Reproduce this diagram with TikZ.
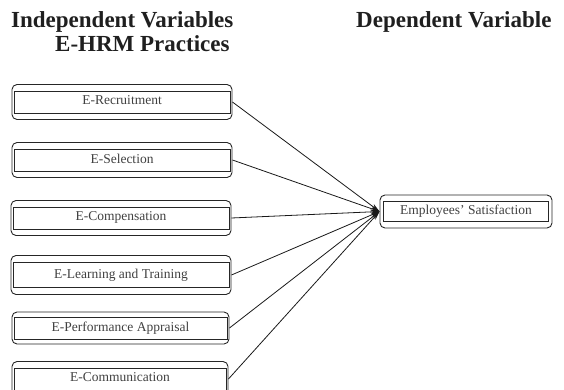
\documentclass[tikz,border=0pt]{standalone}
\usepackage{fontspec}
\setmainfont{Liberation Serif}
\usepackage{tikz}
\usetikzlibrary{arrows.meta}

\begin{document}
\begin{tikzpicture}[x=1pt,y=1pt,
  outerbox/.style={draw=black!85, line width=0.9pt, rounded corners=5pt, minimum width=220pt, minimum height=35pt, inner sep=0pt},
  innerbox/.style={draw=black!85, line width=0.9pt, minimum width=216pt, minimum height=22pt, inner sep=0pt, text depth=3pt, font=\fontsize{13.5}{15}\selectfont, text=black!75},
  heading/.style={anchor=base west, inner sep=0pt, font=\fontsize{23}{27}\selectfont\bfseries, text=black!88},
  link/.style={draw=black!90, line width=0.8pt, -{Stealth[length=9pt,width=5pt]}}]
\useasboundingbox (0,0) rectangle (564,-390);
% headings
\node [heading] (indep) at (11,-28) {Independent Variables};
\node [heading] (ehrm) at (55,-52) {E-HRM Practices};
\node [heading] (dep) at (356,-28) {Dependent Variable};
% practices
\node [outerbox] (rec) at (122,-102) {};
\node [innerbox] (recin) at (rec) {E-Recruitment};
\node [outerbox] (sel) at (122,-160) {};
\node [innerbox] (selin) at (sel) {E-Selection};
\node [outerbox] (comp) at (121,-218) {};
\node [innerbox] (compin) at (comp) {E-Compensation};
\node [outerbox, minimum height=39pt] (learn) at (121,-275) {};
\node [innerbox, minimum height=25pt] (learnin) at (learn) {E-Learning and Training};
\node [outerbox, minimum width=217pt, minimum height=32pt] (perf) at (120.5,-328) {};
\node [innerbox, minimum width=213pt] (perfin) at (perf) {E-Performance Appraisal};
\node [outerbox, minimum width=216pt] (comm) at (120,-379) {};
\node [innerbox, minimum width=212pt] (commin) at (comm) {E-Communication};
% outcome
\node [outerbox, minimum width=172pt, minimum height=33pt] (sat) at (466,-211.5) {};
\node [innerbox, minimum width=165pt, minimum height=20pt] (satin) at (sat) {Employees' Satisfaction};
% links
\foreach \src in {rec,sel,comp,learn,perf,comm}
  \draw [link] (\src.east) -- (sat.west);
\end{tikzpicture}
\end{document}
